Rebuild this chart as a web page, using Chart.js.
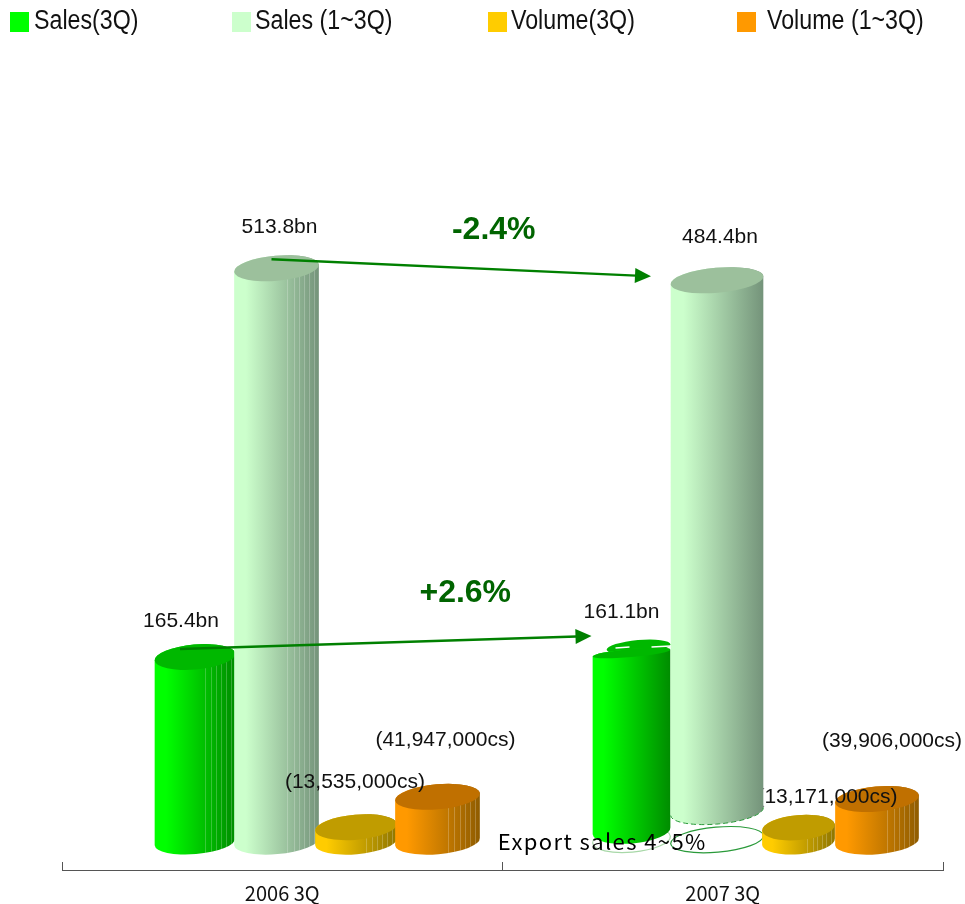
<!DOCTYPE html>
<html>
<head>
<meta charset="utf-8">
<style>html,body{margin:0;padding:0;background:#fff}canvas{display:block}</style>
<script src="https://cdn.jsdelivr.net/npm/chart.js@4"></script>
</head>
<body>
<canvas id="c" width="965" height="904"></canvas>
<script>
const categories = ['2006 3Q', '2007 3Q'];
const seriesNames = ['Sales(3Q)', 'Sales (1~3Q)', 'Volume(3Q)', 'Volume (1~3Q)'];
// bn; the 2007 sales columns float above a hollow export-sales segment
const salesQ3Top = [165.4, 169];
const salesQ3Low = [0, 9.6];
const salesYtdTop = [513.8, 503];
const salesYtdLow = [0, 27];
// cases
const volumeQ3 = [13535000, 13171000];
const volumeYtd = [41947000, 39906000];
const salesQ3Labels = ['165.4bn', '161.1bn'];
const salesYtdLabels = ['513.8bn', '484.4bn'];
const volumeQ3Labels = ['(13,535,000cs)', '(13,171,000cs)'];
const volumeYtdLabels = ['(41,947,000cs)', '(39,906,000cs)'];
const changeLabels = ['-2.4%', '+2.6%'];
const exportNote = 'Export sales 4~5%';

// ---- styling only ----
const FLAT = ['#00ff00', '#ccffcc', '#ffcc00', '#ff9900'];
const DARK = ['#008c00', '#74937a', '#8f7600', '#8f5c00'];
const CAP = ['#00b800', '#9cc09c', '#c09c00', '#c07000'];
const GROUP_SHIFT = 35;
const NUDGE = [[0, 0, -2, -2], [-4, 0, 0, -3]];
const WIDTH = [[81, 85, 82, 85], [78, 93, 73, 84]];
const FACET = [.62, .70, .76, .82, .88, .94];
const RY = 12.5, ROT = -5 * Math.PI / 180;
const NUM = 'Liberation Sans', NOTE = 'Noto Sans CJK KR';

function cylinderPath(ctx, x, top, base, rx, topRy) {
  ctx.beginPath();
  ctx.ellipse(x, base, rx, RY, ROT, 0, Math.PI);
  ctx.ellipse(x, top, rx, topRy, ROT, Math.PI, 2 * Math.PI);
  ctx.closePath();
}
Chart.BarElement.prototype.draw = function (ctx) {
  const s = this.$skin; if (!s) return;
  const x = this.x, rx = this.width / 2, top = this.y, base = this.base, d = s.d;
  const split = s.hollowY !== null && d === 0;
  ctx.save();
  if (s.hollowY !== null) {
    ctx.beginPath();
    ctx.ellipse(x, s.hollowY, rx, RY, ROT, 0, 2 * Math.PI);
    ctx.fillStyle = '#fff'; ctx.fill();
    ctx.strokeStyle = d === 1 ? '#2a9a3a' : '#a8d8a8'; ctx.lineWidth = 1.2; ctx.stroke();
  }
  if (split) {
    ctx.beginPath();
    ctx.ellipse(x + 7, top - 6, rx - 7, 7, ROT, 0, 2 * Math.PI);
    ctx.fillStyle = CAP[d]; ctx.fill();
  }
  const g = ctx.createLinearGradient(x - rx, 0, x + rx, 0);
  g.addColorStop(0, FLAT[d]); g.addColorStop(.14, FLAT[d]); g.addColorStop(1, DARK[d]);
  cylinderPath(ctx, x, top, base, rx, split ? 4 : RY);
  ctx.fillStyle = g; ctx.fill();
  if (s.facets) {
    ctx.save(); ctx.clip();
    ctx.strokeStyle = 'rgba(255,255,255,.22)'; ctx.lineWidth = 1;
    FACET.forEach(f => {
      const px = Math.round(x - rx + f * 2 * rx) + .5;
      ctx.beginPath(); ctx.moveTo(px, top - 20); ctx.lineTo(px, base + 20); ctx.stroke();
    });
    ctx.restore();
  }
  if (s.hollowY !== null && d === 1) {
    ctx.setLineDash([5, 3]); ctx.strokeStyle = '#2a9a3a'; ctx.lineWidth = 1;
    ctx.beginPath(); ctx.ellipse(x, base, rx, RY, ROT, 0, Math.PI); ctx.stroke();
    ctx.setLineDash([]);
  }
  ctx.beginPath(); ctx.ellipse(x, top, rx, split ? 4 : RY, ROT, 0, 2 * Math.PI);
  ctx.fillStyle = CAP[d]; ctx.fill();
  if (split) {
    ctx.strokeStyle = '#fff'; ctx.lineWidth = 1.4;
    ctx.beginPath();
    ctx.moveTo(x - rx + 23, top - 5); ctx.lineTo(x - rx + 37, top - 6);
    ctx.moveTo(x + rx - 19, top - 6); ctx.lineTo(x + rx, top - 7);
    ctx.stroke();
  }
  ctx.restore();
};

const lowFor = [salesQ3Low, salesYtdLow];
const cylinderPlugin = {
  id: 'cylinders',
  afterDatasetsUpdate(chart) {
    chart.data.datasets.forEach((ds, d) => {
      chart.getDatasetMeta(d).data.forEach((el, i) => {
        el.x += GROUP_SHIFT + NUDGE[i][d];
        el.width = WIDTH[i][d];
        const low = d < 2 ? lowFor[d][i] : 0;
        el.$skin = { d, facets: i === 0 || d >= 2,
          hollowY: low > 0 ? chart.scales.y.getPixelForValue(0) - 2 : null };
      });
    });
  },
  beforeDatasetsDraw(chart) {
    chart.data.datasets.forEach((ds, d) => chart.getDatasetMeta(d).controller.draw());
    return false;
  },
  afterDraw(chart) {
    const ctx = chart.ctx;
    const el = (d, i) => chart.getDatasetMeta(d).data[i];
    // arrows
    const arrow = (x0, y0, x1, y1) => {
      const a = Math.atan2(y1 - y0, x1 - x0);
      ctx.save(); ctx.strokeStyle = ctx.fillStyle = '#008000'; ctx.lineWidth = 2.4;
      ctx.beginPath(); ctx.moveTo(x0, y0);
      ctx.lineTo(x1 - 15 * Math.cos(a), y1 - 15 * Math.sin(a)); ctx.stroke();
      ctx.translate(x1, y1); ctx.rotate(a);
      ctx.beginPath(); ctx.moveTo(0, 0); ctx.lineTo(-16, -7.5); ctx.lineTo(-16, 7.5); ctx.closePath(); ctx.fill();
      ctx.restore();
    };
    const a0 = el(1, 0), a1 = el(1, 1), b0 = el(0, 0), b1 = el(0, 1);
    arrow(a0.x - 5, a0.y - 9, a1.x - 66, a1.y - 4);
    arrow(b0.x - 15, b0.y - 8, b1.x - 40, b1.y - 17);
    // value labels
    ctx.save();
    ctx.textAlign = 'center'; ctx.textBaseline = 'middle'; ctx.fillStyle = '#111';
    ctx.font = '21px "' + NUM + '"';
    const put = (t, d, i, dx, dy) => { const e = el(d, i); ctx.fillText(t, e.x + dx, e.y + dy); };
    put(salesYtdLabels[0], 1, 0, 3, -41);
    put(salesYtdLabels[1], 1, 1, 3, -43);
    put(salesQ3Labels[0], 0, 0, -14, -36);
    put(salesQ3Labels[1], 0, 1, -10, -41);
    put(volumeQ3Labels[0], 2, 0, -1, -45);
    put(volumeYtdLabels[0], 3, 0, 8, -57);
    put(volumeYtdLabels[1], 3, 1, 15, -58);
    ctx.save();
    const lb = el(1, 1);
    ctx.beginPath(); ctx.rect(lb.x + lb.width / 2, 0, 400, 904); ctx.clip();
    put(volumeQ3Labels[1], 2, 1, 29, -30);
    ctx.restore();
    // change labels
    ctx.fillStyle = '#006400'; ctx.font = 'bold 32px "' + NUM + '"';
    ctx.fillText(changeLabels[0], (a0.x + a1.x) / 2 - 3, a0.y - 38);
    ctx.fillText(changeLabels[1], (b0.x + b1.x) / 2 + 52, b0.y - 64);
    // export note
    ctx.fillStyle = '#000'; ctx.font = '22px "' + NOTE + '"'; ctx.letterSpacing = '1.4px';
    ctx.fillText(exportNote, (b1.x + a1.x) / 2 - 72, chart.scales.y.getPixelForValue(0));
    ctx.letterSpacing = '0px';
    // legend
    const boxX = [10, 232, 488, 737], textX = [34, 255, 511, 767];
    ctx.textAlign = 'left';
    seriesNames.forEach((n, i) => {
      ctx.fillStyle = FLAT[i]; ctx.fillRect(boxX[i], 12, 19, 20);
      ctx.fillStyle = '#111'; ctx.font = '27px "' + NUM + '"';
      ctx.save(); ctx.translate(textX[i], 21.5); ctx.scale(.86, 1);
      ctx.fillText(n, 0, 0);
      ctx.restore();
    });
    ctx.restore();
  }
};

const datasets = [
  { label: seriesNames[0], data: salesQ3Top.map((v, i) => [salesQ3Low[i], v]), backgroundColor: FLAT[0], yAxisID: 'y' },
  { label: seriesNames[1], data: salesYtdTop.map((v, i) => [salesYtdLow[i], v]), backgroundColor: FLAT[1], yAxisID: 'y' },
  { label: seriesNames[2], data: volumeQ3, backgroundColor: FLAT[2], yAxisID: 'y1' },
  { label: seriesNames[3], data: volumeYtd, backgroundColor: FLAT[3], yAxisID: 'y1' }
];

new Chart(document.getElementById('c'), {
  type: 'bar',
  data: { labels: categories, datasets },
  plugins: [cylinderPlugin],
  options: {
    responsive: false, animation: false,
    layout: { padding: { left: 62, right: 22, top: 172, bottom: 0 } },
    datasets: { bar: { categoryPercentage: .74, barPercentage: 1 } },
    plugins: { legend: { display: false }, tooltip: { enabled: false } },
    scales: {
      x: {
        grid: { offset: true, drawOnChartArea: false, tickLength: -8, color: '#555' },
        border: { color: '#555', width: 1 },
        ticks: { color: '#111', font: { family: NOTE, size: 20 }, padding: 19, maxRotation: 0 },
        afterFit(s) { s.height = 34; }
      },
      y: { display: false, min: -25.4, max: 600 },
      y1: { display: false, min: -26450000, max: 625900000 }
    }
  }
});
</script>
</body>
</html>
